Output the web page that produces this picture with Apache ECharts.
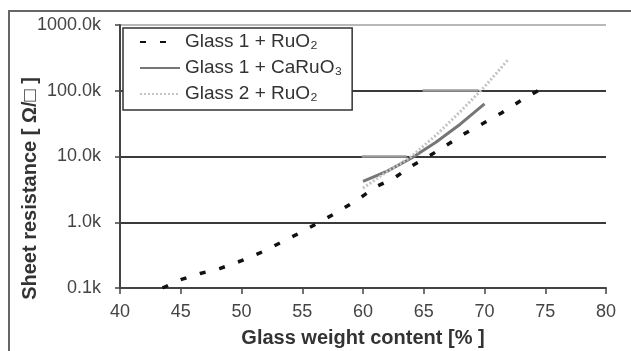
<!DOCTYPE html>
<html>
<head>
<meta charset="utf-8">
<script src="https://cdn.jsdelivr.net/npm/echarts@6/dist/echarts.min.js"></script>
<style>
html,body{margin:0;padding:0;background:#fff;}
#c{width:631px;height:351px;}
</style>
</head>
<body>
<div id="c"></div>
<script>
// Data (resistance in kΩ/□, x in glass wt%)
const seriesNames = ['Glass 1 + RuO\u2082', 'Glass 1 + CaRuO\u2083', 'Glass 2 + RuO\u2082'];
const g1RuO2_x = [43.5, 45, 46.6, 48.3, 50, 51.8, 53.4, 55, 56.6, 58.1, 59.7, 61.1, 62.5, 63.9, 65.5, 66.9, 68.4, 69.9, 71.4, 72.9, 74.5];
const g1RuO2_y = [0.10, 0.134, 0.166, 0.20, 0.26, 0.36, 0.51, 0.72, 1.05, 1.5, 2.3, 3.5, 4.6, 7.0, 10.3, 15, 22.5, 32, 46, 69, 103];
const g1CaRuO3_x = [60, 62, 64, 66, 68, 70];
const g1CaRuO3_y = [4.2, 6.0, 9.5, 16.5, 31, 63];
const g2RuO2_x = [60, 62, 64, 66, 68, 70, 72];
const g2RuO2_y = [3.3, 5.9, 10, 21, 48, 115, 305];
const yTicks = [0.1, 1, 10, 100, 1000];
const xTicks = [40, 45, 50, 55, 60, 65, 70, 75, 80];
// faint horizontal segments over gridlines: [x0, x1, level]
const faintSegs = [[59.9, 63.6, 10], [64.9, 69.5, 100]];

const pairs = (xs, ys) => xs.map((x, i) => [x, ys[i]]);
const FONT = '"Liberation Sans", Arial, sans-serif';

const chart = echarts.init(document.getElementById('c'), null, {renderer: 'canvas'});
chart.setOption({
  animation: false,
  backgroundColor: '#fff',
  grid: {left: 120, right: 25, top: 25, bottom: 63, outerBoundsMode: 'none', containLabel: false},
  graphic: [{
    type: 'rect', z: -1, silent: true,
    shape: {x: 9, y: 11, width: 700, height: 400},
    style: {fill: 'none', stroke: '#666', lineWidth: 2}
  }],
  legend: {
    orient: 'vertical', left: 123, top: 28,
    padding: [4, 10, 6, 16],
    itemWidth: 40, itemHeight: 12, itemGap: 6,
    backgroundColor: '#fff', borderColor: '#333', borderWidth: 1.5,
    itemStyle: {opacity: 0},
    textStyle: {fontFamily: FONT, fontSize: 19, color: '#333', lineHeight: 20},
    data: seriesNames
  },
  xAxis: {
    type: 'value', min: xTicks[0], max: xTicks[xTicks.length - 1], interval: 5,
    name: 'Glass weight content [% ]', nameLocation: 'middle', nameGap: 40,
    nameMoveOverlap: false,
    nameTextStyle: {fontFamily: FONT, fontSize: 20, fontWeight: 'bold', color: '#333'},
    axisLine: {lineStyle: {color: '#444', width: 2}},
    axisTick: {show: true, inside: false, length: 6, lineStyle: {color: '#444', width: 1.5}},
    axisLabel: {fontFamily: FONT, fontSize: 18, color: '#444', margin: 15},
    splitLine: {show: false}
  },
  yAxis: {
    type: 'log', logBase: 10, min: yTicks[0], max: yTicks[yTicks.length - 1],
    name: 'Sheet resistance [ \u03A9/\u25A1 ]', nameLocation: 'middle', nameGap: 80,
    nameMoveOverlap: false,
    nameTextStyle: {fontFamily: FONT, fontSize: 20, fontWeight: 'bold', color: '#333',
      padding: [0, 64, 0, 0]},
    axisLine: {show: true, lineStyle: {color: '#444', width: 2}},
    axisTick: {show: true, inside: false, length: 5, lineStyle: {color: '#444', width: 1.5}},
    axisLabel: {fontFamily: FONT, fontSize: 18, color: '#444', margin: 19,
      formatter: v => (Math.round(v * 10) / 10).toFixed(1) + 'k'},
    splitLine: {show: true, lineStyle: {color: ['#3a3a3a', '#3a3a3a', '#3a3a3a', '#3a3a3a', '#b8b8b8'], width: 2}}
  },
  series: [
    {
      name: seriesNames[0], type: 'line', data: pairs(g1RuO2_x, g1RuO2_y),
      showSymbol: false, symbol: 'none', z: 4,
      lineStyle: {color: '#111', width: 3.5, type: [6, 14], cap: 'butt'},
      itemStyle: {color: '#111'}
    },
    {
      name: seriesNames[1], type: 'line', data: pairs(g1CaRuO3_x, g1CaRuO3_y),
      showSymbol: false, symbol: 'none', z: 3,
      lineStyle: {color: '#767676', width: 3},
      itemStyle: {color: '#666'},
      markLine: {
        silent: true, symbol: 'none', label: {show: false},
        lineStyle: {color: '#9a9a9a', width: 2.5, type: 'solid'},
        data: faintSegs.map(s => [{coord: [s[0], s[2]]}, {coord: [s[1], s[2]]}])
      }
    },
    {
      name: seriesNames[2], type: 'line', data: pairs(g2RuO2_x, g2RuO2_y),
      showSymbol: false, symbol: 'none', z: 5,
      lineStyle: {color: '#c4c4c4', width: 3, type: [2, 2]},
      itemStyle: {color: '#c4c4c4'}
    }
  ]
});
</script>
</body>
</html>
